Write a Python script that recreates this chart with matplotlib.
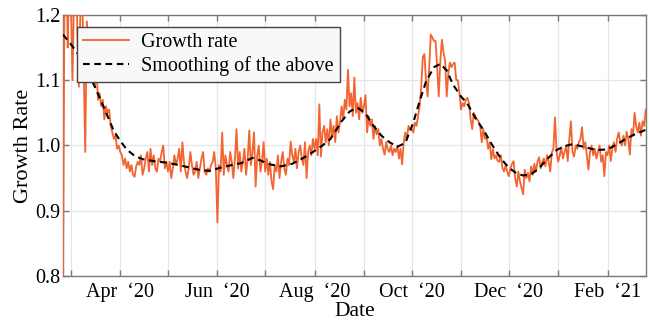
import matplotlib
matplotlib.use("Agg")
import matplotlib.pyplot as plt
import matplotlib.dates as mdates
import pandas as pd
import numpy as np

# ---- data (daily growth rate, 2020-02-25 .. 2021-02-25) ----
growth_feb20 = [0.78, 1.25, 1.32, 1.15, 1.28]
growth_mar20 = [1.22, 1.10, 1.24, 1.30, 1.18, 1.09, 1.21, 1.25, 1.12, 0.99,
                1.19, 1.14, 1.10, 1.15, 1.11, 1.09, 1.12, 1.07, 1.08, 1.06,
                1.07, 1.04, 1.06, 1.05, 1.055, 1.03, 1.02, 1.01, 1.015, 0.995, 1.00]
growth_apr20 = [0.99, 0.985, 0.97, 0.98, 0.965, 0.975, 0.96, 0.97, 0.955, 0.952,
                0.968, 0.975, 0.97, 0.985, 0.955, 0.965, 0.98, 0.99, 0.96, 0.995,
                0.97, 0.985, 0.965, 0.96, 0.98, 0.975, 0.99, 1.00, 0.965, 0.975]
growth_may20 = [0.96, 0.975, 0.95, 0.965, 0.985, 0.97, 0.98, 0.995, 0.96, 1.005,
                0.975, 0.96, 0.95, 0.965, 0.99, 0.97, 0.955, 0.96, 0.975, 0.95,
                0.965, 0.98, 0.99, 0.96, 0.955, 0.965, 0.96, 0.97, 0.975, 0.99, 0.965]
growth_jun20 = [0.882, 0.97, 0.96, 1.02, 0.955, 0.985, 0.97, 0.96, 0.99, 0.975,
                0.95, 0.98, 1.025, 0.965, 0.99, 0.96, 0.975, 0.995, 0.955, 0.98,
                1.023, 0.97, 0.99, 1.02, 0.937, 0.985, 1.00, 0.96, 0.975, 1.005]
growth_jul20 = [0.96, 0.98, 0.955, 0.975, 0.945, 0.933, 0.97, 0.96, 0.985, 0.95,
                0.975, 0.99, 0.965, 0.955, 0.98, 0.97, 1.006, 0.985, 0.975, 0.995,
                0.965, 0.99, 1.0, 0.98, 0.97, 1.005, 0.95, 0.99, 1.0, 0.985, 1.01]
growth_aug20 = [0.995, 1.01, 0.985, 1.063, 0.983, 1.02, 1.03, 1.005, 1.025, 1.0,
                1.04, 1.015, 1.03, 1.005, 1.045, 1.02, 1.035, 1.06, 1.04, 1.07,
                1.055, 1.116, 1.06, 1.08, 1.045, 1.104, 1.05, 1.065, 1.04, 1.073, 1.05]
growth_sep20 = [1.06, 1.077, 1.02, 1.045, 1.03, 1.04, 1.01, 1.03, 1.017, 1.025,
                1.0, 1.01, 0.995, 0.986, 1.005, 0.994, 0.99, 1.0, 0.985, 0.995,
                0.99, 1.0, 0.98, 0.995, 0.971, 1.005, 1.02, 1.01, 1.03, 1.025]
growth_oct20 = [1.025, 1.02, 1.035, 1.03, 1.045, 1.06, 1.09, 1.136, 1.14, 1.10,
                1.075, 1.12, 1.17, 1.165, 1.16, 1.16, 1.12, 1.075, 1.13, 1.162,
                1.142, 1.13, 1.075, 1.11, 1.127, 1.12, 1.125, 1.127, 1.10, 1.10, 1.08]
growth_nov20 = [1.055, 1.065, 1.06, 1.07, 1.073, 1.065, 1.04, 1.025, 1.05, 1.045,
                1.04, 1.037, 1.03, 1.005, 1.025, 1.01, 1.014, 0.995, 1.005, 0.979,
                0.994, 0.98, 0.985, 0.976, 0.975, 0.985, 0.965, 0.96, 0.97, 0.96]
growth_dec20 = [0.953, 0.965, 0.972, 0.976, 0.95, 0.937, 0.96, 0.945, 0.935, 0.925,
                0.963, 0.95, 0.958, 0.945, 0.968, 0.955, 0.972, 0.96, 0.975, 0.982,
                0.965, 0.975, 0.98, 0.968, 0.985, 0.975, 0.96, 0.989, 0.995, 1.043, 0.99]
growth_jan21 = [0.975, 0.985, 0.997, 0.98, 0.99, 1.0, 0.976, 1.01, 1.037, 0.99,
                0.983, 1.0, 0.995, 1.005, 1.01, 1.028, 0.995, 1.005, 0.985, 0.963,
                0.99, 1.0, 0.985, 0.995, 0.98, 0.99, 1.0, 0.975, 0.985, 0.953, 0.99]
growth_feb21 = [0.985, 1.0, 0.976, 0.995, 1.005, 0.99, 1.01, 1.02, 1.005, 1.0,
                1.015, 1.0, 1.021, 1.01, 0.986, 1.025, 1.015, 1.05, 1.03, 1.02,
                1.035, 1.015, 1.037, 1.03, 1.055]

# ---- smoothed curve (read at roughly weekly points) ----
smooth_dates = ["2020-02-25", "2020-03-01", "2020-03-07", "2020-03-12", "2020-03-16",
                "2020-03-20", "2020-03-24", "2020-03-28", "2020-04-01", "2020-04-05",
                "2020-04-10", "2020-04-15", "2020-04-22", "2020-04-29", "2020-05-06",
                "2020-05-13", "2020-05-20", "2020-05-27", "2020-06-03", "2020-06-10",
                "2020-06-16", "2020-06-23", "2020-06-28", "2020-07-04", "2020-07-11",
                "2020-07-18", "2020-07-25", "2020-07-31", "2020-08-06", "2020-08-11",
                "2020-08-18", "2020-08-23", "2020-08-28", "2020-09-02", "2020-09-07",
                "2020-09-12", "2020-09-17", "2020-09-22", "2020-09-27", "2020-10-02",
                "2020-10-06", "2020-10-10", "2020-10-15", "2020-10-19", "2020-10-23",
                "2020-10-27", "2020-11-01", "2020-11-05", "2020-11-10", "2020-11-15",
                "2020-11-21", "2020-11-26", "2020-12-01", "2020-12-06", "2020-12-10",
                "2020-12-15", "2020-12-20", "2020-12-25", "2020-12-31", "2021-01-05",
                "2021-01-10", "2021-01-17", "2021-01-25", "2021-02-01", "2021-02-07",
                "2021-02-13", "2021-02-19", "2021-02-25"]
smooth_values = [1.170, 1.155, 1.135, 1.110, 1.090,
                 1.068, 1.045, 1.022, 1.007, 0.994,
                 0.984, 0.979, 0.976, 0.974, 0.971,
                 0.967, 0.963, 0.961, 0.966, 0.970,
                 0.973, 0.981, 0.977, 0.971, 0.968,
                 0.972, 0.981, 0.990, 1.000, 1.010,
                 1.037, 1.052, 1.058, 1.049, 1.030,
                 1.015, 1.005, 0.998, 1.004, 1.035,
                 1.068, 1.098, 1.120, 1.125, 1.115,
                 1.093, 1.075, 1.064, 1.042, 1.024,
                 0.999, 0.980, 0.966, 0.957, 0.954,
                 0.956, 0.965, 0.979, 0.993, 0.999,
                 1.002, 0.998, 0.993, 0.994, 1.002,
                 1.011, 1.018, 1.024]

growth = (growth_feb20 + growth_mar20 + growth_apr20 + growth_may20 + growth_jun20 +
          growth_jul20 + growth_aug20 + growth_sep20 + growth_oct20 + growth_nov20 +
          growth_dec20 + growth_jan21 + growth_feb21)
dates = pd.date_range("2020-02-25", periods=len(growth), freq="D")
sdates = pd.to_datetime(smooth_dates)

y_ticks = [0.8, 0.9, 1.0, 1.1, 1.2]

plt.rcParams["font.family"] = ["Liberation Serif", "DejaVu Serif"]

fig = plt.figure(figsize=(6.49, 3.24), dpi=100)
ax = fig.add_axes([0.097, 0.148, 0.898, 0.806])

orange = "#F26430"
ax.plot(dates, growth, color=orange, lw=1.3, label="Growth rate", zorder=3)
ax.plot(sdates, smooth_values, color="black", lw=1.5, ls=(0, (3.2, 2.2)),
        label="Smoothing of the above", zorder=4)

ax.set_xlim(pd.Timestamp("2020-02-25"), pd.Timestamp("2021-02-25"))
ax.set_ylim(0.8, 1.2)
ax.set_yticks(y_ticks)
ax.set_yticklabels([f"{v:.1f}" for v in y_ticks])

ax.xaxis.set_major_locator(mdates.MonthLocator(bymonth=[2, 4, 6, 8, 10, 12]))
ax.xaxis.set_minor_locator(mdates.MonthLocator(bymonth=[1, 3, 5, 7, 9, 11]))
ax.xaxis.set_major_formatter(mdates.DateFormatter("%b  \u2018%y"))

spine_col = "#7a7a7a"
for s in ax.spines.values():
    s.set_color(spine_col)
    s.set_linewidth(1.0)

ax.tick_params(which="both", direction="in", length=4.5, width=1.0, color=spine_col,
               top=True, right=True, labelsize=14.5)
ax.tick_params(axis="x", pad=5)
ax.tick_params(axis="y", pad=2)
ax.grid(which="both", color="#e6e6e6", lw=0.9, zorder=0)
ax.set_axisbelow(True)

ax.set_xlabel("Date", fontsize=15.5, labelpad=0)
ax.set_ylabel("Growth Rate", fontsize=16, labelpad=1)

leg = ax.legend(loc="upper left", bbox_to_anchor=(0.024, 0.954), borderaxespad=0,
                fontsize=14.5, frameon=True, fancybox=False, framealpha=1,
                handlelength=2.3, handletextpad=0.6, borderpad=0.3, labelspacing=0.2)
leg.get_frame().set_facecolor("#f7f8f7")
leg.get_frame().set_edgecolor("#444444")
leg.get_frame().set_linewidth(1.0)

fig.savefig("out.png", dpi=100)
